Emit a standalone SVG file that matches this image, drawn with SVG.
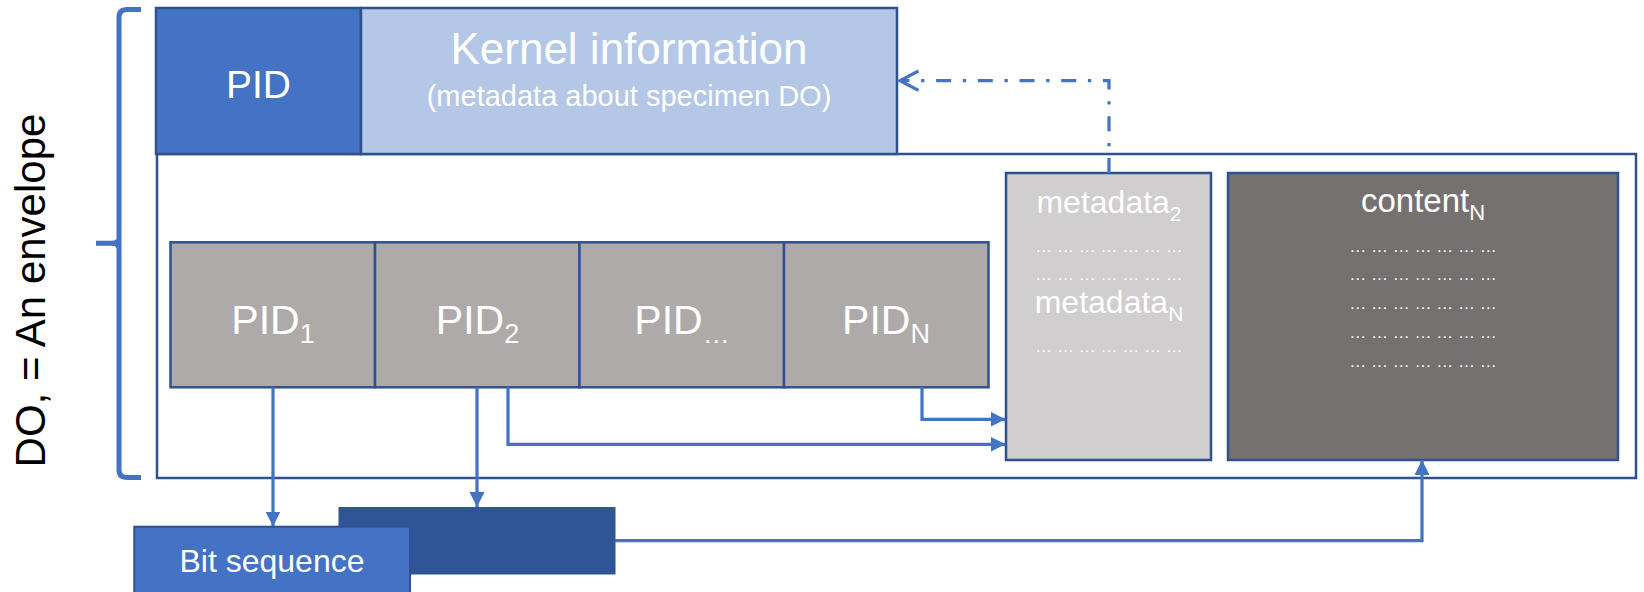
<svg xmlns="http://www.w3.org/2000/svg" width="1644" height="592" viewBox="0 0 1644 592">
  <style>
    text { font-family: "Liberation Sans", Arial, sans-serif; fill: #ffffff; }
    .box { stroke: #2F528F; stroke-width: 2.5; }
    .pidcell { fill: #AEAAAA; stroke: #2F528F; stroke-width: 2.5; }
    .link { fill: none; stroke: #4472C4; stroke-width: 3.2; }
    .dots { font-size: 17px; text-anchor: middle; }
    .label { text-anchor: middle; }
  </style>
  <defs>
    <marker id="tri" markerUnits="userSpaceOnUse" markerWidth="16" markerHeight="16" refX="15" refY="7.5" orient="auto">
      <path d="M0,0 L15,7.5 L0,15 z" fill="#4472C4"/>
    </marker>
  </defs>

  <rect width="1644" height="592" fill="#ffffff"/>

  <!-- brace and side label -->
  <g id="brace">
    <path d="M141,9.5 H127 Q119,9.5 119,17.5 V469.5 Q119,477.5 127,477.5 H141" fill="none" stroke="#4472C4" stroke-width="5"/>
    <path d="M96,243.3 H112 Q117,243.3 119,240 M112,243.3 Q117,243.3 119,247" fill="none" stroke="#4472C4" stroke-width="5"/>
    <text transform="translate(45,290.5) rotate(-90)" class="label" style="fill:#000000;font-size:42px">DO, = An envelope</text>
  </g>

  <!-- envelope -->
  <g id="envelope">
    <rect x="157" y="154" width="1479" height="324" fill="#ffffff" stroke="#2F528F" stroke-width="2.5"/>
  </g>

  <!-- header: PID + kernel information -->
  <g id="pid-header">
    <rect x="156" y="8" width="205" height="146" fill="#4472C4" class="box"/>
    <text x="258.5" y="98" class="label" style="font-size:39px">PID</text>
  </g>
  <g id="kernel-info">
    <rect x="361" y="8" width="536" height="146" fill="#B4C7E7" class="box"/>
    <text x="629" y="64" class="label" style="font-size:44px">Kernel information</text>
    <text x="629" y="106" class="label" style="font-size:29px">(metadata about specimen DO)</text>
  </g>

  <!-- metadata column -->
  <g id="metadata">
    <rect x="1006" y="173" width="205" height="287" fill="#D0CECE" class="box"/>
    <text x="1109" y="212.7" class="label" style="font-size:32px">metadata<tspan dy="8" style="font-size:21px">2</tspan></text>
    <text x="1109" y="251.7" class="dots">… … … … … … …</text>
    <text x="1109" y="280" class="dots">… … … … … … …</text>
    <text x="1109" y="312.7" class="label" style="font-size:32px">metadata<tspan dy="8" style="font-size:21px">N</tspan></text>
    <text x="1109" y="352" class="dots">… … … … … … …</text>
  </g>

  <!-- content column -->
  <g id="content">
    <rect x="1228" y="173" width="390" height="287" fill="#767171" class="box"/>
    <text x="1423" y="212" class="label" style="font-size:33px">content<tspan dy="8" style="font-size:22px">N</tspan></text>
    <text x="1423" y="251.7" class="dots">… … … … … … …</text>
    <text x="1423" y="280.3" class="dots">… … … … … … …</text>
    <text x="1423" y="309" class="dots">… … … … … … …</text>
    <text x="1423" y="338.3" class="dots">… … … … … … …</text>
    <text x="1423" y="367.3" class="dots">… … … … … … …</text>
  </g>

  <!-- row of PIDs -->
  <g id="pid-1">
    <rect x="170.5" y="242.3" width="204.5" height="145" class="pidcell"/>
    <text x="273" y="334" class="label" style="font-size:41px">PID<tspan dy="9" style="font-size:27px">1</tspan></text>
  </g>
  <g id="pid-2">
    <rect x="375" y="242.3" width="204.5" height="145" class="pidcell"/>
    <text x="477.5" y="334" class="label" style="font-size:41px">PID<tspan dy="9" style="font-size:27px">2</tspan></text>
  </g>
  <g id="pid-dots">
    <rect x="579.5" y="242.3" width="204.5" height="145" class="pidcell"/>
    <text x="682" y="334" class="label" style="font-size:41px">PID<tspan dy="9" style="font-size:27px">…</tspan></text>
  </g>
  <g id="pid-n">
    <rect x="784" y="242.3" width="204.5" height="145" class="pidcell"/>
    <text x="886" y="334" class="label" style="font-size:41px">PID<tspan dy="9" style="font-size:27px">N</tspan></text>
  </g>

  <!-- bit sequence boxes -->
  <g id="bit-sequence-back">
    <rect x="338.5" y="507" width="277" height="67.5" fill="#2F5597"/>
  </g>

  <!-- connectors -->
  <g id="connectors">
    <path class="link" d="M273,387.3 V526.5" marker-end="url(#tri)"/>
    <path class="link" d="M477,387.3 V507" marker-end="url(#tri)"/>
    <path class="link" d="M508,387.3 V444.3 H1005.5" marker-end="url(#tri)"/>
    <path class="link" d="M922,387.3 V419.3 H1005.5" marker-end="url(#tri)"/>
    <path class="link" d="M615,540.7 H1422 V460" marker-end="url(#tri)"/>
    <path class="link" d="M1109,173 V80.7 H901" stroke-width="3.5" stroke-dasharray="15 11.7 3.3 11.7"/>
    <path class="link" d="M918.5,71 L900,80.7 L918.5,90.4" stroke-width="3.5"/>
  </g>

  <g id="bit-sequence">
    <rect x="134.3" y="526.7" width="275.7" height="70" fill="#4472C4" stroke="#2F528F" stroke-width="2"/>
    <text x="272" y="571.7" class="label" style="font-size:32px">Bit sequence</text>
  </g>
</svg>
